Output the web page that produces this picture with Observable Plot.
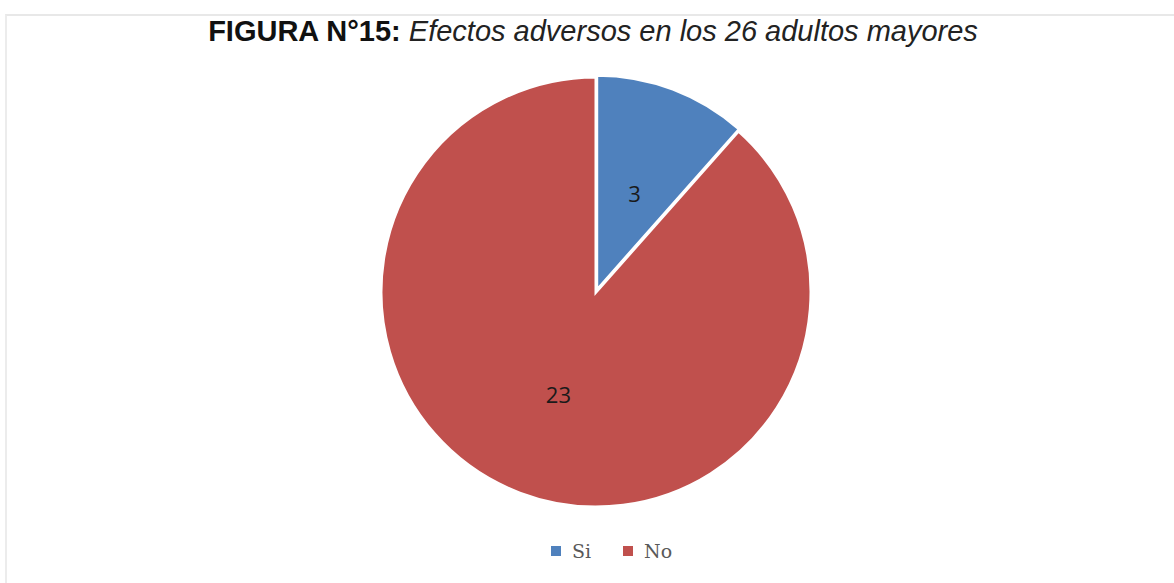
<!DOCTYPE html>
<html>
<head>
<meta charset="utf-8">
<script src="https://cdn.jsdelivr.net/npm/d3@7"></script>
<script src="https://cdn.jsdelivr.net/npm/@observablehq/plot@0.6"></script>
<style>
  html, body { margin: 0; padding: 0; background: #fff; }
  #frame { position: absolute; left: 5px; top: 14px; width: 1169px; height: 569px;
           border-top: 2px solid #e8e8e8; border-left: 2px solid #ececec; box-sizing: border-box; }
  #title { position: absolute; left: 0; top: 14px; width: 1186px; text-align: center; line-height: 34px;
           font-family: "Liberation Sans", Arial, sans-serif; font-size: 29px; color: #111; white-space: nowrap; }
  #title b { font-weight: bold; }
  #title i { font-style: italic; color: #222; }
  #chart { position: absolute; left: 0; top: 60px; }
  #legend { position: absolute; left: 551px; top: 538px; display: flex; line-height: 26px;
            font-family: "DejaVu Serif", "Liberation Serif", serif; font-size: 19px; color: #595959; }
  #legend .item { display: flex; align-items: center; margin-right: 32px; }
  #legend .sw { width: 10px; height: 10px; margin-right: 11px; }
</style>
</head>
<body>
<div id="frame"></div>
<div id="title"><b>FIGURA N°15:</b> <i>Efectos adversos en los 26 adultos mayores</i></div>
<div id="chart"></div>
<div id="legend"></div>
<script>
// ---- data ----
const categories = ["Si", "No"];
const counts = [3, 23];

// ---- style ----
const colors = ["#4F81BD", "#C0504D"];
const W = 1174, H = 470;
const cx = 596, cy = 232, R = 215;

const rows = categories.map((c, i) => ({category: c, value: counts[i], color: colors[i]}));
const arcs = d3.pie().sort(null).value(d => d.value)(rows);
const arcGen = d3.arc().innerRadius(0).outerRadius(R);
const labels = arcs.map(a => {
  const [dx, dy] = arcGen.centroid(a);
  return {x: cx + dx, y: cy + dy, text: String(a.data.value)};
});

const pieMark = (index, scales) => {
  const g = d3.create("svg:g");
  const ox = scales.x(cx), oy = scales.y(cy);
  const rpx = scales.x(cx + R) - ox;
  const gen = d3.arc().innerRadius(0).outerRadius(rpx);
  arcs.forEach((a, i) => {
    const mid = (a.startAngle + a.endAngle) / 2;
    const off = i === 0 ? 2 : 0;
    g.append("path")
      .attr("d", gen(a))
      .attr("transform", `translate(${ox + off * Math.sin(mid)},${oy - off * Math.cos(mid)})`)
      .attr("fill", a.data.color)
      .attr("stroke", "#fff")
      .attr("stroke-width", 3)
      .attr("stroke-linejoin", "miter");
  });
  return g.node();
};

const plot = Plot.plot({
  width: W,
  height: H,
  margin: 0,
  x: {domain: [0, W], range: [0, W], axis: null},
  y: {domain: [0, H], range: [0, H], axis: null},
  marks: [
    pieMark,
    Plot.text(labels, {x: "x", y: "y", text: "text", fontSize: 22, fill: "#1a1a1a", dy: 3,
      fontFamily: "'Open Sans', 'Liberation Sans', sans-serif"})
  ]
});
document.getElementById("chart").appendChild(plot);

const legend = document.getElementById("legend");
categories.forEach((c, i) => {
  const item = document.createElement("div");
  item.className = "item";
  const sw = document.createElement("span");
  sw.className = "sw";
  sw.style.background = colors[i];
  const t = document.createElement("span");
  t.textContent = c;
  item.appendChild(sw); item.appendChild(t);
  legend.appendChild(item);
});
</script>
</body>
</html>
